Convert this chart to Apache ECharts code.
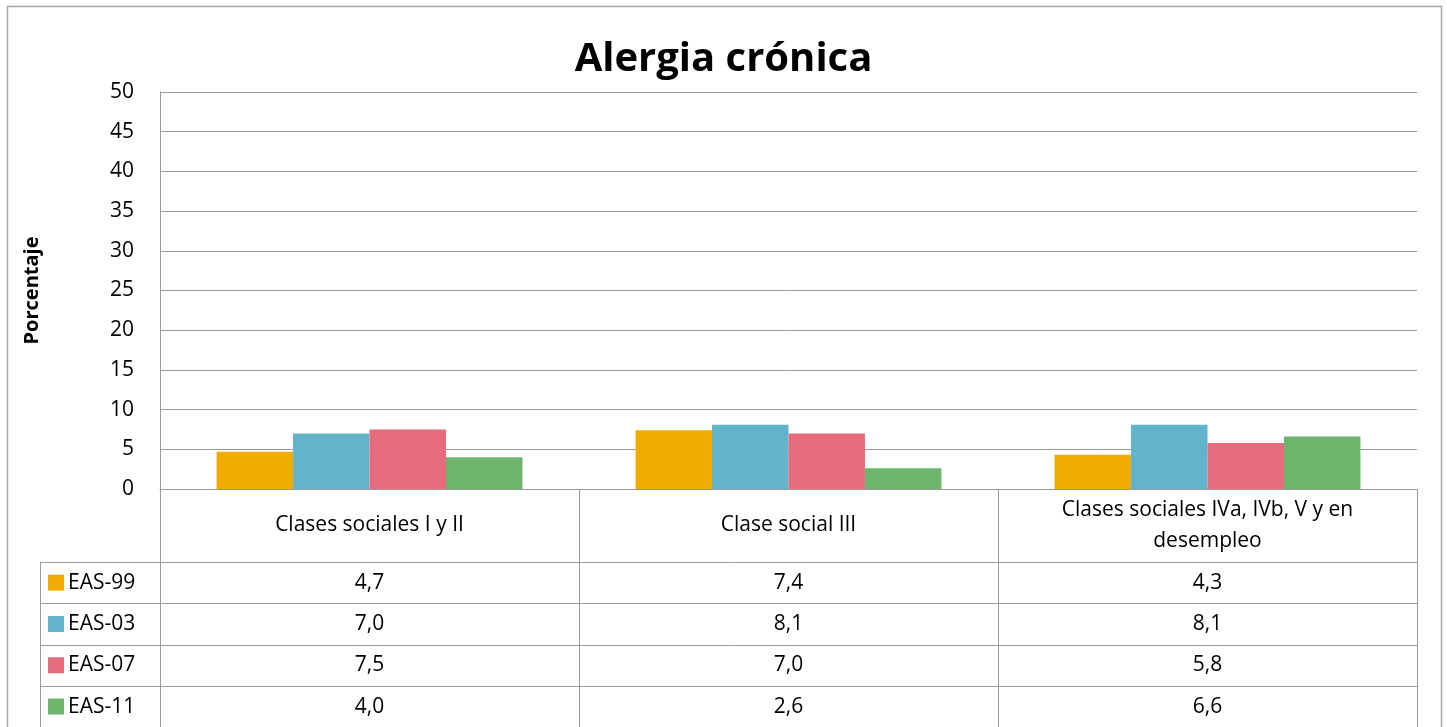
<!DOCTYPE html>
<html>
<head>
<meta charset="utf-8">
<script src="https://cdn.jsdelivr.net/npm/echarts@6/dist/echarts.min.js"></script>
<style>
  html, body { margin: 0; padding: 0; background: #fff; }
  #chart { width: 1447px; height: 727px; }
</style>
</head>
<body>
<div id="chart"></div>
<script>
// datos
const categories = ['Clases sociales I y II', 'Clase social III', 'Clases sociales IVa, IVb, V y en\ndesempleo']
const seriesNames = ['EAS-99', 'EAS-03', 'EAS-07', 'EAS-11']
const eas99 = [4.7, 7.4, 4.3]
const eas03 = [7.0, 8.1, 8.1]
const eas07 = [7.5, 7.0, 5.8]
const eas11 = [4.0, 2.6, 6.6]
const colors = ['#F0AD00', '#62B4CC', '#E66C7D', '#6DB56D']
const values = [eas99, eas03, eas07, eas11]

const font = '"Open Sans", "Noto Sans", sans-serif'
const lineColor = '#9a9a9a'

const chart = echarts.init(document.getElementById('chart'))

chart.setOption({
  animation: false,
  color: colors,
  title: {
    text: 'Alergia crónica',
    left: 'center',
    top: 35,
    textStyle: { fontFamily: font, fontSize: 40, fontWeight: 'bold', color: '#000' }
  },
  grid: { left: 160, right: 30, top: 92, bottom: 238 },
  xAxis: {
    type: 'category',
    data: categories,
    axisLine: { show: true, lineStyle: { color: lineColor } },
    axisTick: { show: false },
    axisLabel: { show: false }
  },
  yAxis: {
    type: 'value',
    min: 0,
    max: 50,
    interval: 5,
    name: 'Porcentaje',
    nameLocation: 'middle',
    nameGap: 118,
    nameTextStyle: { fontFamily: font, fontSize: 20, fontWeight: 'bold', color: '#000' },
    axisLine: { show: true, lineStyle: { color: lineColor } },
    axisTick: { show: false },
    axisLabel: { margin: 26, fontFamily: font, fontSize: 21, color: '#000' },
    splitLine: { lineStyle: { color: lineColor } }
  },
  series: seriesNames.map((name, i) => ({
    name: name,
    type: 'bar',
    data: values[i],
    barGap: '0%',
    barCategoryGap: '27%',
    itemStyle: { color: colors[i] }
  }))
})

// tabla de datos bajo el eje
function drawTable() {
  const x0 = chart.convertToPixel({ xAxisIndex: 0 }, 0)
  const x1 = chart.convertToPixel({ xAxisIndex: 0 }, 1)
  const step = x1 - x0
  const plotLeft = x0 - step / 2
  const baseY = chart.convertToPixel({ yAxisIndex: 0 }, 0)
  const headerH = 73
  const rowH = 41.3
  const legendLeft = 40
  const bottom = baseY + headerH + rowH * seriesNames.length
  const els = []
  const line = (xa, ya, xb, yb) => els.push({
    type: 'line', shape: { x1: xa, y1: ya, x2: xb, y2: yb },
    style: { stroke: lineColor, lineWidth: 1 }
  })
  // verticales
  for (let c = 0; c <= categories.length; c++) {
    const x = Math.round(plotLeft + step * c) + 0.5
    line(x, baseY, x, bottom + 5)
  }
  line(legendLeft + 0.5, baseY + headerH, legendLeft + 0.5, bottom + 5)
  // horizontales
  for (let r = 0; r < seriesNames.length; r++) {
    const y = Math.round(baseY + headerH + rowH * r) + 0.5
    line(legendLeft, y, plotLeft + step * categories.length, y)
  }
  // cabecera
  categories.forEach((cat, c) => {
    els.push({
      type: 'text',
      style: {
        text: cat, x: plotLeft + step * (c + 0.5), y: baseY + headerH / 2,
        align: 'center', verticalAlign: 'middle', lineHeight: 31,
        font: '21px ' + font, fill: '#000'
      }
    })
  })
  // filas
  seriesNames.forEach((name, r) => {
    const cy = baseY + headerH + rowH * (r + 0.5)
    els.push({ type: 'rect', shape: { x: 48, y: cy - 8, width: 16, height: 16 }, style: { fill: colors[r] } })
    els.push({
      type: 'text',
      style: { text: name, x: 68, y: cy, align: 'left', verticalAlign: 'middle', font: '21px ' + font, fill: '#000' }
    })
    values[r].forEach((v, c) => {
      els.push({
        type: 'text',
        style: {
          text: v.toFixed(1).replace('.', ','), x: plotLeft + step * (c + 0.5), y: cy,
          align: 'center', verticalAlign: 'middle', font: '21px ' + font, fill: '#000'
        }
      })
    })
  })
  // marco exterior
  els.push({
    type: 'rect', shape: { x: 7.5, y: 6.5, width: 1434, height: 740 },
    style: { fill: 'none', stroke: '#a6a6a6', lineWidth: 1.5 }
  })
  chart.setOption({ graphic: els })
}
drawTable()
</script>
</body>
</html>
